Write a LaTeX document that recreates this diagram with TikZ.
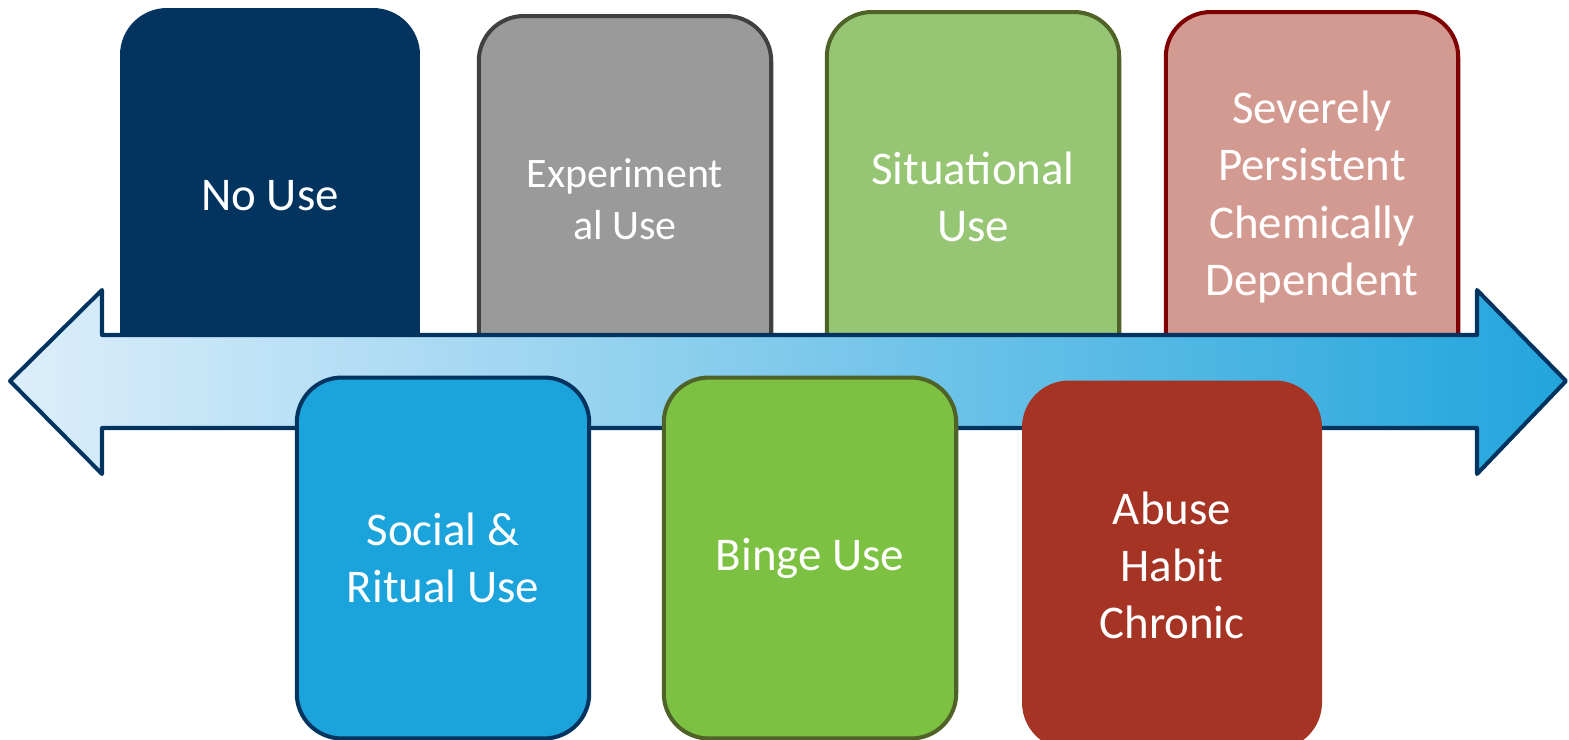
\documentclass[tikz,border=0pt]{standalone}
\usepackage{fontspec}
\setmainfont{Carlito}
\usepackage{tikz}
\usetikzlibrary{calc}

\definecolor{navy}{HTML}{03345F}
\definecolor{grayfill}{HTML}{9A9A9A}
\definecolor{grayline}{HTML}{404040}
\definecolor{lightgreen}{HTML}{96C573}
\definecolor{olive}{HTML}{4F6228}
\definecolor{rose}{HTML}{D39A92}
\definecolor{maroon}{HTML}{7F0000}
\definecolor{skyblue}{HTML}{1BA4DB}
\definecolor{limegreen}{HTML}{7DC142}
\definecolor{brick}{HTML}{A53425}
\definecolor{arrowleft}{HTML}{DDEEFB}
\definecolor{arrowright}{HTML}{22A5DC}

\tikzset{
	stage/.style={rounded corners=0.9cm, line width=2.3pt, minimum width=5.85cm,
		text=white, align=center, inner sep=0pt, font=\fontsize{26.7}{32.5}\selectfont},
}

\begin{document}
\begin{tikzpicture}[x=0.02cm, y=-0.02cm]
			\useasboundingbox (0,0) rectangle (1569,740);
			
			\node[stage, draw=navy, fill=navy, minimum width=5.92cm, minimum height=7.44cm] (nouse) at (270,196) {No Use};
			\node[stage, draw=grayline, fill=grayfill, minimum height=7.32cm, font=\fontsize{23.9}{29.5}\selectfont] (experimental) at (625,199) {Experiment\\al Use};
			\node[stage, draw=olive, fill=lightgreen, minimum height=7.4cm] (situational) at (973,197) {Situational\\Use};
			\node[stage, draw=maroon, fill=rose, minimum height=7.4cm] (severe) at (1312,197) {Severely\\Persistent\\Chemically\\Dependent};
			
			\shade[left color=arrowleft, right color=arrowright] (10,381) -- (102,290) -- (102,335) -- (1477,335) -- (1477,290) -- (1566,381) -- (1477,474) -- (1477,428) -- (102,428) -- (102,474) -- cycle;
			\draw[navy, line width=2.3pt, line join=round] (10,381) -- (102,290) -- (102,335) -- (1477,335) -- (1477,290) -- (1566,381) -- (1477,474) -- (1477,428) -- (102,428) -- (102,474) -- cycle;
			
			\node[stage, draw=navy, fill=skyblue, minimum height=7.22cm] (social) at (443,558) {Social \&\\Ritual Use};
			\node[stage, draw=olive, fill=limegreen, minimum height=7.22cm] (binge) at (810,558) {\raisebox{-0.12cm}{Binge Use}};
			\node[stage, draw=brick, fill=brick, minimum width=5.92cm, minimum height=7.3cm] (abuse) at (1172,565) {Abuse\\Habit\\Chronic};
		\end{tikzpicture}
\end{document}
